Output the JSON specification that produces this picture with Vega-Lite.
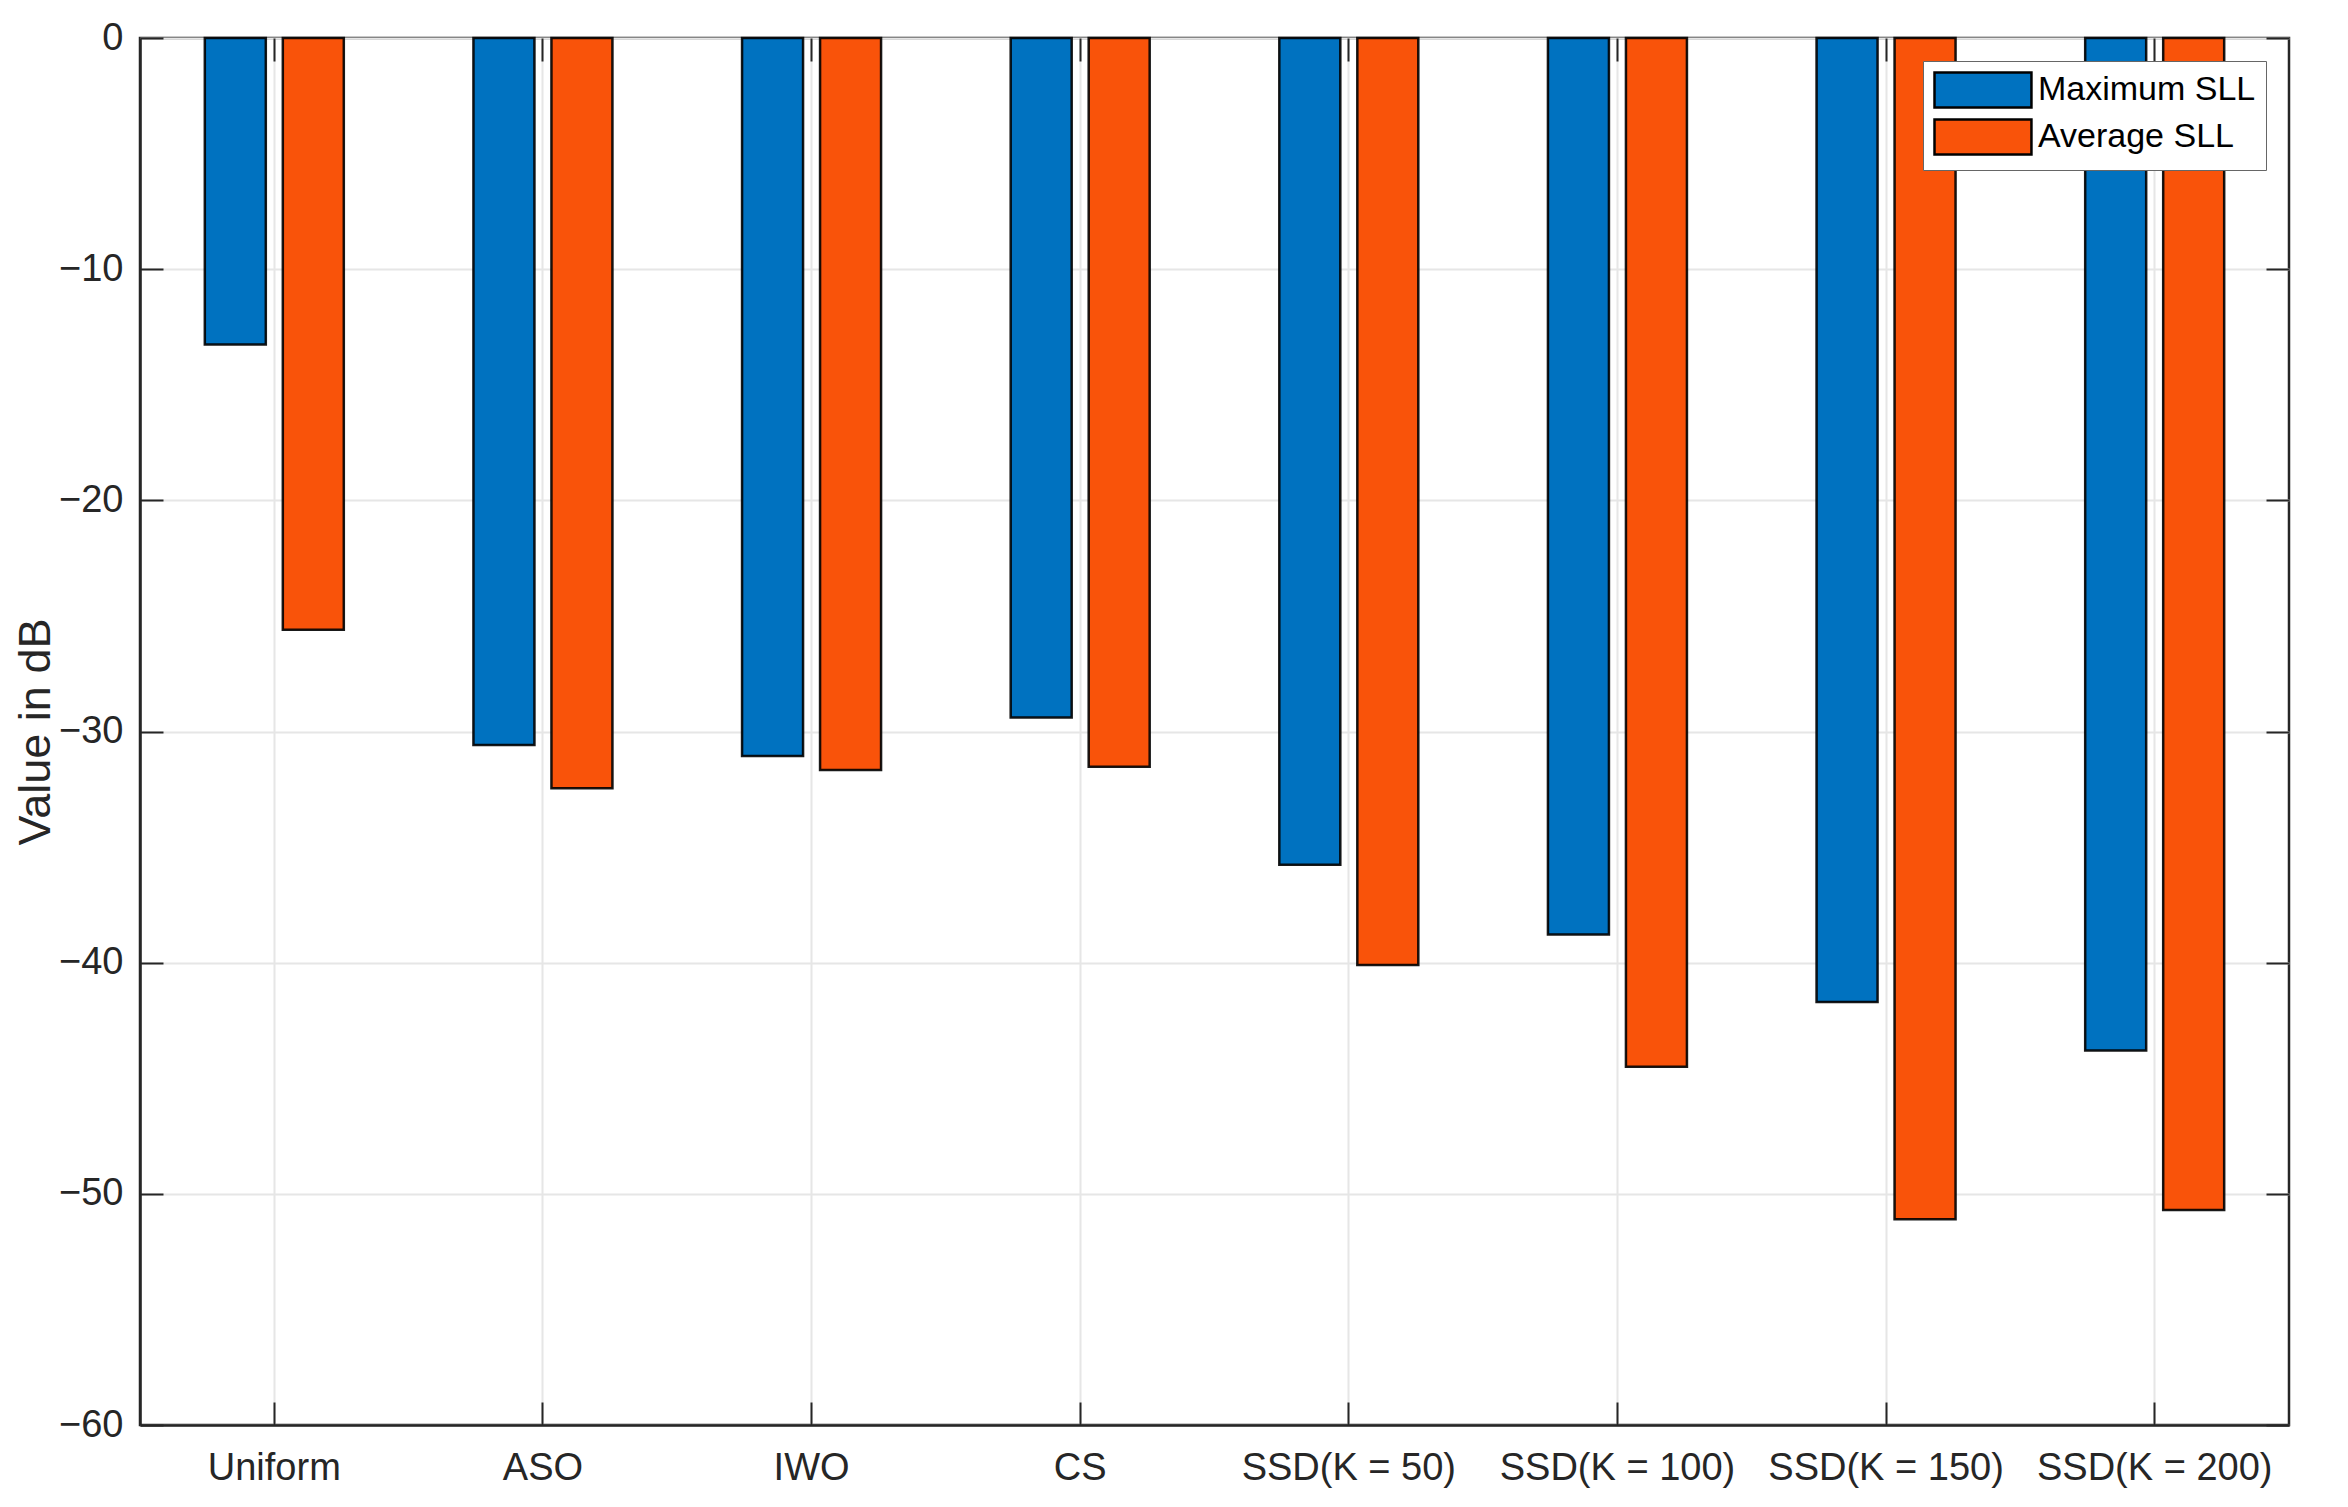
{
  "$schema": "https://vega.github.io/schema/vega-lite/v6.json",
  "width": 2149,
  "height": 1387,
  "autosize": "none",
  "padding": {"left": 140, "top": 38, "right": 59, "bottom": 82},
  "background": "white",
  "data": {
    "values": [
      {"method": "Uniform", "series": "Maximum SLL", "value": -13.26},
      {"method": "Uniform", "series": "Average SLL", "value": -25.6},
      {"method": "ASO", "series": "Maximum SLL", "value": -30.58},
      {"method": "ASO", "series": "Average SLL", "value": -32.45},
      {"method": "IWO", "series": "Maximum SLL", "value": -31.06},
      {"method": "IWO", "series": "Average SLL", "value": -31.67},
      {"method": "CS", "series": "Maximum SLL", "value": -29.39},
      {"method": "CS", "series": "Average SLL", "value": -31.52},
      {"method": "SSD(K = 50)", "series": "Maximum SLL", "value": -35.76},
      {"method": "SSD(K = 50)", "series": "Average SLL", "value": -40.1},
      {"method": "SSD(K = 100)", "series": "Maximum SLL", "value": -38.78},
      {"method": "SSD(K = 100)", "series": "Average SLL", "value": -44.5},
      {"method": "SSD(K = 150)", "series": "Maximum SLL", "value": -41.7},
      {"method": "SSD(K = 150)", "series": "Average SLL", "value": -51.1},
      {"method": "SSD(K = 200)", "series": "Maximum SLL", "value": -43.8},
      {"method": "SSD(K = 200)", "series": "Average SLL", "value": -50.7}
    ]
  },
  "config": {
    "font": "Liberation Sans, Arial",
    "view": {"stroke": "#262626", "strokeWidth": 2.5},
    "axis": {
      "labelFont": "Liberation Sans, Arial",
      "titleFont": "Liberation Sans, Arial",
      "labelColor": "#262626",
      "titleColor": "#262626",
      "domainColor": "#262626",
      "domainWidth": 2.5,
      "tickColor": "#262626",
      "tickWidth": 2,
      "gridColor": "#e6e6e6",
      "gridWidth": 2,
      "titleFontWeight": "normal",
      "labelLimit": 0
    },
    "legend": {
      "labelFont": "Liberation Sans, Arial",
      "labelLimit": 0
    }
  },
  "encoding": {
    "x": {
      "field": "method",
      "type": "nominal",
      "sort": null,
      "scale": {"paddingInner": 0, "paddingOuter": 0}
    },
    "xOffset": {
      "field": "series",
      "type": "nominal",
      "sort": ["Maximum SLL", "Average SLL"],
      "scale": {"paddingInner": 0.218, "paddingOuter": 0.831}
    },
    "y": {
      "field": "value",
      "type": "quantitative",
      "scale": {"domain": [-60, 0], "nice": false, "zero": false}
    }
  },
  "layer": [
    {
      "mark": {"type": "bar", "stroke": "#000000", "strokeWidth": 2.5, "strokeOpacity": 0.9},
      "encoding": {
        "x": {
          "field": "method",
          "type": "nominal",
          "sort": null,
          "axis": {
            "title": null,
            "orient": "bottom",
            "labelAngle": 0,
            "labelFontSize": 38,
            "labelPadding": 47,
            "tickSize": -23,
            "grid": true,
            "bandPosition": 0.5
          }
        },
        "y": {
          "field": "value",
          "type": "quantitative",
          "axis": {
            "title": "Value in dB",
            "orient": "left",
            "values": [-60, -50, -40, -30, -20, -10, 0],
            "labelExpr": "replace(datum.label, '-', '\u2212')",
            "labelFontSize": 38,
            "labelPadding": 40,
            "tickSize": -23,
            "grid": true,
            "titleFontSize": 45,
            "titlePadding": 0
          }
        },
        "color": {
          "field": "series",
          "type": "nominal",
          "sort": ["Maximum SLL", "Average SLL"],
          "scale": {"domain": ["Maximum SLL", "Average SLL"], "range": ["#0072C0", "#F9530A"]},
          "legend": {
            "title": null,
            "orient": "top-right",
            "offset": 23,
            "fillColor": "white",
            "strokeColor": "#666666",
            "padding": 10,
            "labelFontSize": 34,
            "labelColor": "#000000",
            "labelOffset": 67,
            "symbolType": "M-1,-1H4.54V1H-1Z",
            "symbolSize": 1225,
            "symbolStrokeColor": "#000000",
            "symbolStrokeWidth": 2.5,
            "rowPadding": 1
          }
        }
      }
    },
    {
      "mark": {"type": "bar", "opacity": 0},
      "encoding": {
        "x": {
          "field": "method",
          "type": "nominal",
          "sort": null,
          "axis": {
            "title": null,
            "orient": "top",
            "labels": false,
            "domain": false,
            "grid": false,
            "tickSize": -23,
            "bandPosition": 0.5
          }
        },
        "y": {
          "field": "value",
          "type": "quantitative",
          "axis": {
            "title": null,
            "orient": "right",
            "values": [-60, -50, -40, -30, -20, -10, 0],
            "labels": false,
            "domain": false,
            "grid": false,
            "tickSize": -23
          }
        }
      }
    }
  ],
  "resolve": {"axis": {"x": "independent", "y": "independent"}}
}
